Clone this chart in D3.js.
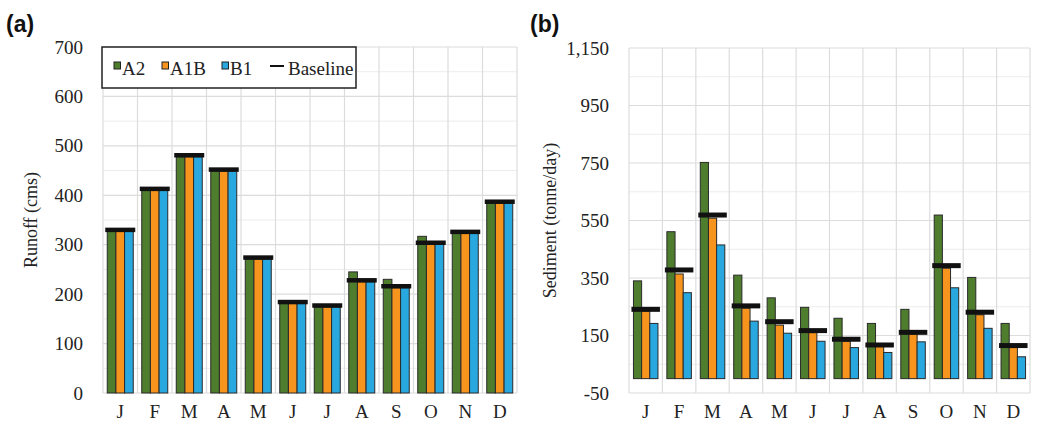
<!DOCTYPE html>
<html>
<head>
<meta charset="utf-8">
<script src="https://cdn.jsdelivr.net/npm/d3@7"></script>
<style>
  body { margin: 0; background: #fff; }
  svg { display: block; }
</style>
</head>
<body>
<svg id="svg" width="1040" height="425"></svg>
<script>
var serif = "'Liberation Serif', 'Times New Roman', serif";

// month letters along the x axis
var months = ["J","F","M","A","M","J","J","A","S","O","N","D"];
var seriesNames = ["A2","A1B","B1"];
var seriesColors = ["#4e7d2e","#f7941d","#29a8e0"];

// (a) runoff, cms
var runoffA2   = [327, 410, 478, 449, 271, 181, 174, 245, 230, 317, 323, 384];
var runoffA1B  = [327, 410, 478, 449, 271, 181, 174, 225, 213, 301, 323, 384];
var runoffB1   = [327, 410, 478, 449, 271, 181, 174, 225, 213, 301, 323, 384];
var runoffBase = [330, 413, 481, 452, 274, 184, 177, 228, 216, 304, 326, 387];
var runoffTicks = [0, 100, 200, 300, 400, 500, 600, 700];

// (b) sediment, tonne/day
var sedA2   = [340, 511, 752, 360, 281, 248, 210, 192, 241, 569, 352, 192];
var sedA1B  = [235, 364, 558, 245, 186, 160, 130, 112, 155, 384, 222, 108];
var sedB1   = [192, 299, 465, 200, 158, 130, 108, 91, 128, 316, 175, 76];
var sedBase = [241, 378, 569, 253, 198, 167, 137, 117, 161, 393, 231, 115];
var sedTicks = [-50, 150, 350, 550, 750, 950, 1150];

var svg = d3.select("#svg");
var commaFmt = d3.format(",");

function drawPanel(opt) {
    var g = svg.append("g");
    var x = d3.scaleBand().domain(d3.range(months.length)).range([opt.left, opt.right]).padding(0);
    var y = d3.scaleLinear().domain(opt.domain).range([opt.bottom, opt.top]);
    var bw = x.bandwidth();
    var inner = d3.scaleBand().domain(seriesNames)
        .range([(bw - opt.groupW) / 2, (bw + opt.groupW) / 2]).padding(0);

    //grid - minor lines first
    g.append("g").selectAll("line").data(opt.minor).enter().append("line")
        .attr("x1", opt.left).attr("x2", opt.right)
        .attr("y1", function(d){ return y(d); }).attr("y2", function(d){ return y(d); })
        .attr("stroke", "#ececec").attr("stroke-width", 1);
    g.append("g").selectAll("line").data(opt.ticks).enter().append("line")
        .attr("x1", opt.left).attr("x2", opt.right)
        .attr("y1", function(d){ return y(d); }).attr("y2", function(d){ return y(d); })
        .attr("stroke", "#dcdcdc").attr("stroke-width", 1.2);
    var vx = d3.range(months.length).map(function(i){ return x(i); }).concat([opt.right]);
    g.append("g").selectAll("line").data(vx).enter().append("line")
        .attr("x1", function(d){ return d; }).attr("x2", function(d){ return d; })
        .attr("y1", opt.top).attr("y2", opt.bottom)
        .attr("stroke", "#dcdcdc").attr("stroke-width", 1.2);

    //y axis
    var yAxis = g.append("g").attr("transform", "translate(" + (opt.left - 17) + ",0)")
        .call(d3.axisLeft(y).tickValues(opt.ticks).tickSize(0)
            .tickFormat(function(d){ return commaFmt(d).replace("\u2212", "-"); }));
    yAxis.select(".domain").remove();
    yAxis.attr("font-family", null);
    yAxis.selectAll("text").style("font-family", serif).style("font-size", "19px").attr("fill", "#222");

    //x axis
    var xAxis = g.append("g").attr("transform", "translate(0," + (opt.bottom + 8) + ")")
        .call(d3.axisBottom(x).tickSize(0).tickFormat(function(i){ return months[i]; }));
    xAxis.select(".domain").remove();
    xAxis.attr("font-family", null);
    xAxis.selectAll("text").style("font-family", serif).style("font-size", "19px").attr("fill", "#222");

    //bars
    var zero = y(0);
    opt.series.forEach(function(vals, s) {
        g.append("g").selectAll("rect").data(vals).enter().append("rect")
            .attr("x", function(d, i){ return x(i) + inner(seriesNames[s]); })
            .attr("width", inner.bandwidth())
            .attr("y", function(d){ return y(d); })
            .attr("height", function(d){ return zero - y(d); })
            .attr("fill", seriesColors[s])
            .attr("stroke", "#2a2a2a").attr("stroke-width", 1);
    });

    //baseline marks
    g.append("g").selectAll("line").data(opt.base).enter().append("line")
        .attr("x1", function(d, i){ return x(i) + inner("A2") - 2; })
        .attr("x2", function(d, i){ return x(i) + inner("B1") + inner.bandwidth() + 2; })
        .attr("y1", function(d){ return y(d); }).attr("y2", function(d){ return y(d); })
        .attr("stroke", "#111").attr("stroke-width", opt.baseW);

    //axis title
    svg.append("text")
        .attr("transform", "translate(" + opt.titleX + "," + ((opt.top + opt.bottom) / 2) + ") rotate(-90)")
        .attr("text-anchor", "middle")
        .style("font-family", serif).style("font-size", "18px").attr("fill", "#222")
        .text(opt.title);

    //panel letter
    svg.append("text").attr("x", opt.letterX).attr("y", 32)
        .style("font-family", "'Liberation Sans', Arial, sans-serif").style("font-weight", "bold")
        .style("font-size", "23px").attr("fill", "#111")
        .text(opt.letter);
    return { x: x, y: y };
}

drawPanel({
    left: 103, right: 517, top: 47, bottom: 393,
    domain: [0, 700], ticks: runoffTicks, minor: [50, 150, 250, 350, 450, 550, 650],
    series: [runoffA2, runoffA1B, runoffB1], base: runoffBase,
    groupW: 26, baseW: 4.5,
    title: "Runoff (cms)", titleX: 37, letter: "(a)", letterX: 6
});

drawPanel({
    left: 629, right: 1030, top: 48, bottom: 393,
    domain: [-50, 1150], ticks: sedTicks, minor: [50, 250, 450, 650, 850, 1050],
    series: [sedA2, sedA1B, sedB1], base: sedBase,
    groupW: 24.5, baseW: 5,
    title: "Sediment (tonne/day)", titleX: 556, letter: "(b)", letterX: 530
});

// legend in panel (a)
var leg = svg.append("g");
leg.append("rect").attr("x", 102).attr("y", 47).attr("width", 254).attr("height", 41)
    .attr("fill", "#fff").attr("stroke", "#222").attr("stroke-width", 1.5);
var legItems = [
    { name: "A2", color: seriesColors[0], sx: 114, tx: 122 },
    { name: "A1B", color: seriesColors[1], sx: 162, tx: 170 },
    { name: "B1", color: seriesColors[2], sx: 222, tx: 230 }
];
legItems.forEach(function(d) {
    leg.append("rect").attr("x", d.sx).attr("y", 62).attr("width", 6.5).attr("height", 7)
        .attr("fill", d.color).attr("stroke", "#222").attr("stroke-width", 1);
    leg.append("text").attr("x", d.tx).attr("y", 75)
        .style("font-family", serif).style("font-size", "19px").attr("fill", "#222").text(d.name);
});
leg.append("line").attr("x1", 270).attr("x2", 284).attr("y1", 66).attr("y2", 66)
    .attr("stroke", "#111").attr("stroke-width", 2);
leg.append("text").attr("x", 288).attr("y", 75)
    .style("font-family", serif).style("font-size", "19px").attr("fill", "#222").text("Baseline");
</script>
</body>
</html>
